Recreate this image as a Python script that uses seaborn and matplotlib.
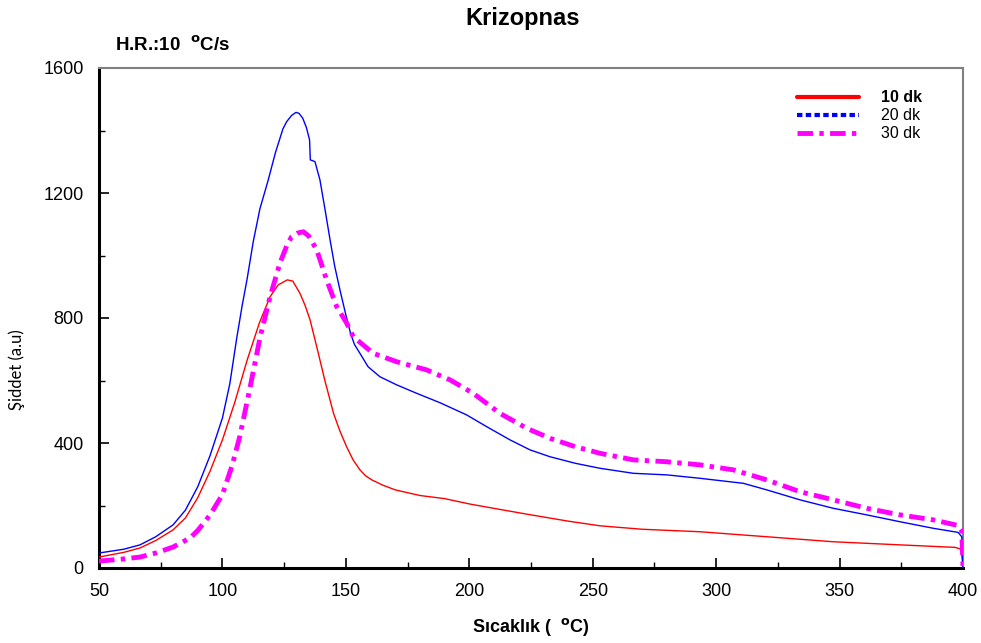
import matplotlib
matplotlib.use("Agg")
import matplotlib.pyplot as plt
import seaborn as sns
import pandas as pd
from matplotlib.lines import Line2D
from matplotlib.ticker import MultipleLocator

# ---- data ----
t_10 = [50, 60, 66.6, 73, 80, 85, 90, 95, 100, 105, 110, 115, 119.3, 122.6, 126.3, 128.5,
        131.4, 133.5, 135.5, 138.2, 141.5, 145, 147.5, 150.3, 153, 155.7, 158, 160.5, 165,
        170, 180, 190, 200, 212, 225, 240, 253, 270, 293.5, 320.5, 347.4, 374.5, 396.8,
        399.3, 400]
i_10 = [35, 50, 64, 88, 122, 160, 225, 310, 410, 530, 665, 785, 868, 906, 922, 918,
        879, 840, 794, 708, 600, 495, 440, 388, 345, 314, 295, 282, 265,
        250, 232, 222, 205, 188, 170, 150, 135, 124, 116, 100, 84, 74, 66,
        60, 0]

t_20 = [50, 60, 66.6, 73, 80, 85, 90, 95, 100, 103, 105.8, 108, 110, 112.5, 115.2, 118.5,
        121.5, 124.5, 126, 128, 129.8, 131, 132.5, 134, 135.3, 135.6, 137, 137.5, 139.5,
        141.5, 143.6, 145.5, 147.6, 150, 151.9, 153.5, 155.7, 159, 163.8, 170.6, 178.7,
        188.1, 198.9, 207.1, 216.5, 224.6, 232.7, 243, 253, 266.5, 280, 293.5, 311, 320.5,
        334, 347.5, 361, 374.5, 388, 398, 399.5, 400]
i_20 = [48, 60, 74, 100, 138, 185, 260, 360, 480, 590, 736, 840, 925, 1045, 1150, 1240,
        1330, 1405, 1428, 1448, 1458, 1455, 1440, 1410, 1370, 1306, 1302, 1300, 1242,
        1150, 1050, 965, 890, 810, 751, 715, 687, 644, 612, 586, 559,
        529, 490, 452, 410, 378, 356, 335, 319, 303, 298, 287, 271, 250,
        218, 191, 170, 148, 127, 114, 100, 0]

t_30 = [50, 60, 66.6, 73, 80, 86.9, 90, 95, 100, 104, 107, 111, 115.2, 119.3, 123.3, 126,
        128, 130.5, 132.8, 135, 138.2, 140, 142.2, 146.3, 150.3, 153, 161.1, 170.6, 182.7,
        192.2, 201.6, 212.4, 223.3, 232.7, 243, 253, 266.5, 280, 293.5, 307, 320.5, 334,
        347.5, 361, 374.5, 388, 398, 399.5, 400]
i_30 = [22, 29, 35, 48, 67, 96, 120, 170, 235, 330, 420, 570, 736, 868, 976, 1030,
        1060, 1072, 1076, 1062, 1018, 975, 922, 836, 784, 740, 687, 660, 634,
        602, 559, 495, 447, 415, 388, 367, 346, 340, 330, 314, 282, 244,
        218, 191, 170, 154, 136, 120, 0]

series_labels = ["10 dk", "20 dk", "30 dk"]
x_ticks = [50, 100, 150, 200, 250, 300, 350, 400]
y_ticks = [0, 400, 800, 1200, 1600]

# ---- plot ----
sns.set_style("white")
plt.rcParams['font.family'] = ['Liberation Sans', 'DejaVu Sans']
plt.rcParams['text.color'] = 'black'
plt.rcParams['axes.labelcolor'] = 'black'
plt.rcParams['xtick.color'] = 'black'
plt.rcParams['ytick.color'] = 'black'

fig = plt.figure(figsize=(9.81, 6.43), dpi=100)
ax = fig.add_axes([99/981, 1-568/643, (963-99)/981, (568-68)/643])

df10 = pd.DataFrame({"T": t_10, "I": i_10})
df20 = pd.DataFrame({"T": t_20, "I": i_20})
df30 = pd.DataFrame({"T": t_30, "I": i_30})

sns.lineplot(data=df10, x="T", y="I", ax=ax, color="#ff0000", lw=1.0,
             estimator=None, sort=False, zorder=3)
sns.lineplot(data=df20, x="T", y="I", ax=ax, color="#0000ff", lw=1.0,
             estimator=None, sort=False, zorder=3)
sns.lineplot(data=df30, x="T", y="I", ax=ax, color="#ff00ff", lw=3.5,
             estimator=None, sort=False, zorder=4)
ax.lines[-1].set_dashes([3.2, 1.3, 0.9, 1.3])

ax.set_xlim(50, 400)
ax.set_ylim(0, 1600)
ax.set_xticks(x_ticks)
ax.set_yticks(y_ticks)
ax.xaxis.set_minor_locator(MultipleLocator(25))
ax.yaxis.set_minor_locator(MultipleLocator(200))
ax.tick_params(axis='both', which='major', direction='in', length=7, width=1.2,
               labelsize=13, colors='black', pad=11,
               bottom=True, left=True, top=False, right=False)
ax.tick_params(axis='both', which='minor', direction='in', length=4, width=1.0,
               bottom=True, left=True, top=False, right=False)

for s in ['left', 'bottom']:
    ax.spines[s].set_color('black')
    ax.spines[s].set_linewidth(2.2)
for s in ['top', 'right']:
    ax.spines[s].set_color('#808080')
    ax.spines[s].set_linewidth(1.5)

ax.set_xlabel("Sıcaklık (  $^{\\mathbf{o}}$C)", fontsize=13, fontweight='bold', labelpad=11,
              color='black')
ax.set_ylabel("Şiddet (a.u)", fontsize=12, family=['Lato', 'DejaVu Sans'], color='black')
ax.yaxis.set_label_coords(-0.086, 0.396)

fig.text(523/981, 1-19/643, "Krizopnas", ha='center', va='center', fontsize=17,
         fontweight='bold', color='black')
fig.text(115/981, 1-45/643, "H.R.:10  $^{\\mathbf{o}}$C/s", ha='left', va='center', fontsize=13.5,
         fontweight='bold', color='black')

handles = [
    Line2D([0], [0], color="#ff0000", lw=3),
    Line2D([0], [0], color="#0000ff", lw=3, dashes=[1.3, 0.8]),
    Line2D([0], [0], color="#ff00ff", lw=3.5, dashes=[3.2, 1.3, 0.9, 1.3]),
]
leg = ax.legend(handles, series_labels, loc='upper left', bbox_to_anchor=(0.80, 0.968),
                frameon=False, fontsize=11.5, handlelength=3.9, handletextpad=1.4,
                labelspacing=0.18, borderaxespad=0)
for t in leg.get_texts():
    t.set_color('black')
leg.get_texts()[0].set_fontweight('bold')

fig.savefig("out.png", dpi=100)
